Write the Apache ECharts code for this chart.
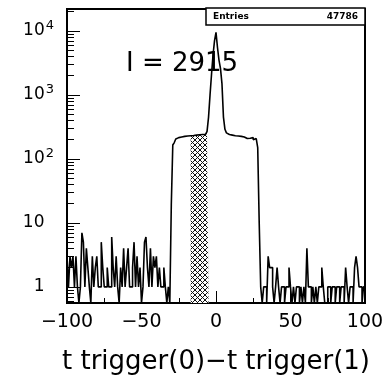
<!DOCTYPE html>
<html>
<head>
<meta charset="utf-8">
<script src="https://cdn.jsdelivr.net/npm/echarts@6/dist/echarts.min.js"></script>
<style>html,body{margin:0;padding:0;background:#fff}#c{width:386px;height:375px}</style>
</head>
<body>
<div id="c"></div>
<script>
// ---- data (bin width 1, bins start at -100) ----
const BIN_START = -100;
const BIN_WIDTH = 1;
// bins -100 .. -31
const leftNoise = [3,1,3,2,3,1,3,1,0,1, 7,5,1,4,2,1,0,3,1,2, 3,1,1,5,2,1,1,2,1,1,
                   6,2,1,3,1,0,2,1,4,1, 2,4,1,1,2,5,1,3,1,2, 0,1,5,6,2,1,4,1,3,2,
                   3,1,2,1,1,2,1,0,1,0];
// bins -30 .. 29
const core = [19,165,180,205,215,210,220,218,225,222, 228,224,230,226,232,228,235,230,238,233,
              240,236,242,250,270, 450,1000,2100,4200,7000, 9500,5500,3500,2600,1500,450,
              290,255,240,232,235,225,230,222,228,218, 225,212,220,215,208,218,210,205,215,200,
              208,205,150,10];
// bins 30 .. 99
const rightNoise = [1,0,1,1,0,3,2,2,1,0, 1,2,1,0,1,1,0,1,1,2, 1,0,1,0,1,1,0,1,0,1,
                    0,4,1,1,0,1,0,1,0,1, 1,2,1,0,0,1,1,0,1,1, 0,1,1,0,1,1,0,2,1,0,
                    1,1,0,2,3,2,1,1,0,1];
const counts = leftNoise.concat(core, rightNoise);
const HATCH_FROM = -17, HATCH_TO = -5;
const yMajor = [1, 10, 100, 1000, 10000];
const Y_MIN = 0.56, Y_MAX = 22000;
const entries = 47786;
const integralLabel = 'I = 2915';
const xTitle = 't trigger(0)\u2212t trigger(1)';

// ---- build ----
function outline(from, to) {
  const pts = [];
  counts.forEach((v, i) => {
    const e = BIN_START + i * BIN_WIDTH;
    if (e < from || e + BIN_WIDTH > to) return;
    const y = v > 0 ? v : Y_MIN;
    pts.push([e, y], [e + BIN_WIDTH, y]);
  });
  return pts;
}
const yMinor = [];
for (let d = 0.1; d < Y_MAX; d *= 10) {
  for (let m = 2; m <= 9; m++) {
    const v = +(m * d).toPrecision(3);
    if (v > Y_MIN && v < Y_MAX) yMinor.push(v);
  }
}
const pc = document.createElement('canvas');
pc.width = 5; pc.height = 5;
const g = pc.getContext('2d');
g.fillStyle = '#fff'; g.fillRect(0, 0, 5, 5);
g.strokeStyle = '#111'; g.lineWidth = 1;
g.beginPath(); g.moveTo(0, 0); g.lineTo(5, 5); g.moveTo(0, 5); g.lineTo(5, 0); g.stroke();

const FONT = 'DejaVu Sans';
const chart = echarts.init(document.getElementById('c'), null, {renderer: 'canvas'});
chart.setOption({
  animation: false,
  backgroundColor: '#fff',
  grid: {left: 67, right: 21, top: 9, bottom: 72, show: true, borderColor: '#000', borderWidth: 2,
         backgroundColor: 'transparent', containLabel: false, outerBoundsMode: 'none'},
  xAxis: {
    type: 'value', min: -100, max: 100, interval: 50,
    axisLine: {show: false, onZero: false},
    axisTick: {show: true, inside: true, length: 12, lineStyle: {color: '#000', width: 1}},
    minorTick: {show: true, splitNumber: 2, length: 5, lineStyle: {color: '#000', width: 1}},
    splitLine: {show: false},
    axisLabel: {margin: 10, fontFamily: FONT, fontSize: 19, color: '#000', showMinLabel: true, showMaxLabel: true,
      formatter: v => String(v).replace('-', '\u2212')},
    name: xTitle, nameLocation: 'middle', nameGap: 46,
    nameTextStyle: {fontFamily: FONT, fontSize: 26, color: '#000'}
  },
  yAxis: [{
    type: 'log', logBase: 10, min: Y_MIN, max: Y_MAX, position: 'left',
    axisLine: {show: false, onZero: false},
    splitLine: {show: false},
    axisTick: {show: true, inside: true, length: 13, customValues: yMajor, lineStyle: {color: '#000', width: 1}},
    axisLabel: {
      margin: 13, color: '#000', customValues: yMajor,
      formatter: v => {
        const e = Math.round(Math.log10(v));
        if (e === 0) return '{b|1}{sp| }';
        if (e === 1) return '{b|10}{sp| }';
        return '{b|10}{s|' + e + '}';
      },
      rich: {
        b: {fontFamily: FONT, fontSize: 17, color: '#000'},
        s: {fontFamily: FONT, fontSize: 13, color: '#000', padding: [0, 0, 10, 1]},
        sp: {fontFamily: FONT, fontSize: 13, width: 9.5}
      }
    }
  }, {
    type: 'log', logBase: 10, min: Y_MIN, max: Y_MAX, position: 'left',
    axisLine: {show: false, onZero: false}, splitLine: {show: false}, axisLabel: {show: false},
    axisTick: {show: true, inside: true, length: 7, customValues: yMinor, lineStyle: {color: '#000', width: 1}}
  }],
  series: [{
    type: 'line', name: 'hatch', data: outline(HATCH_FROM, HATCH_TO), symbol: 'none', z: 1,
    lineStyle: {width: 0, opacity: 0},
    areaStyle: {origin: 'start', color: {image: pc, repeat: 'repeat'}, opacity: 1}
  }, {
    type: 'line', name: 'hist', data: outline(-100, 100), symbol: 'none', z: 3,
    lineStyle: {color: '#000', width: 1.6}
  }],
  graphic: [
    {type: 'text', left: 126, top: 51, z: 10, style: {text: integralLabel, font: '26px "DejaVu Sans"', fill: '#000'}},
    {type: 'rect', shape: {x: 206, y: 8, width: 159, height: 17}, z: 10, style: {fill: '#fff', stroke: '#000', lineWidth: 1.5}},
    {type: 'text', x: 213, y: 16.5, z: 11, style: {text: 'Entries', font: 'bold 9px "DejaVu Sans"', fill: '#000', verticalAlign: 'middle'}},
    {type: 'text', x: 358, y: 16.5, z: 11, style: {text: String(entries), font: 'bold 9px "DejaVu Sans"', fill: '#000', align: 'right', verticalAlign: 'middle'}}
  ]
});
</script>
</body>
</html>
